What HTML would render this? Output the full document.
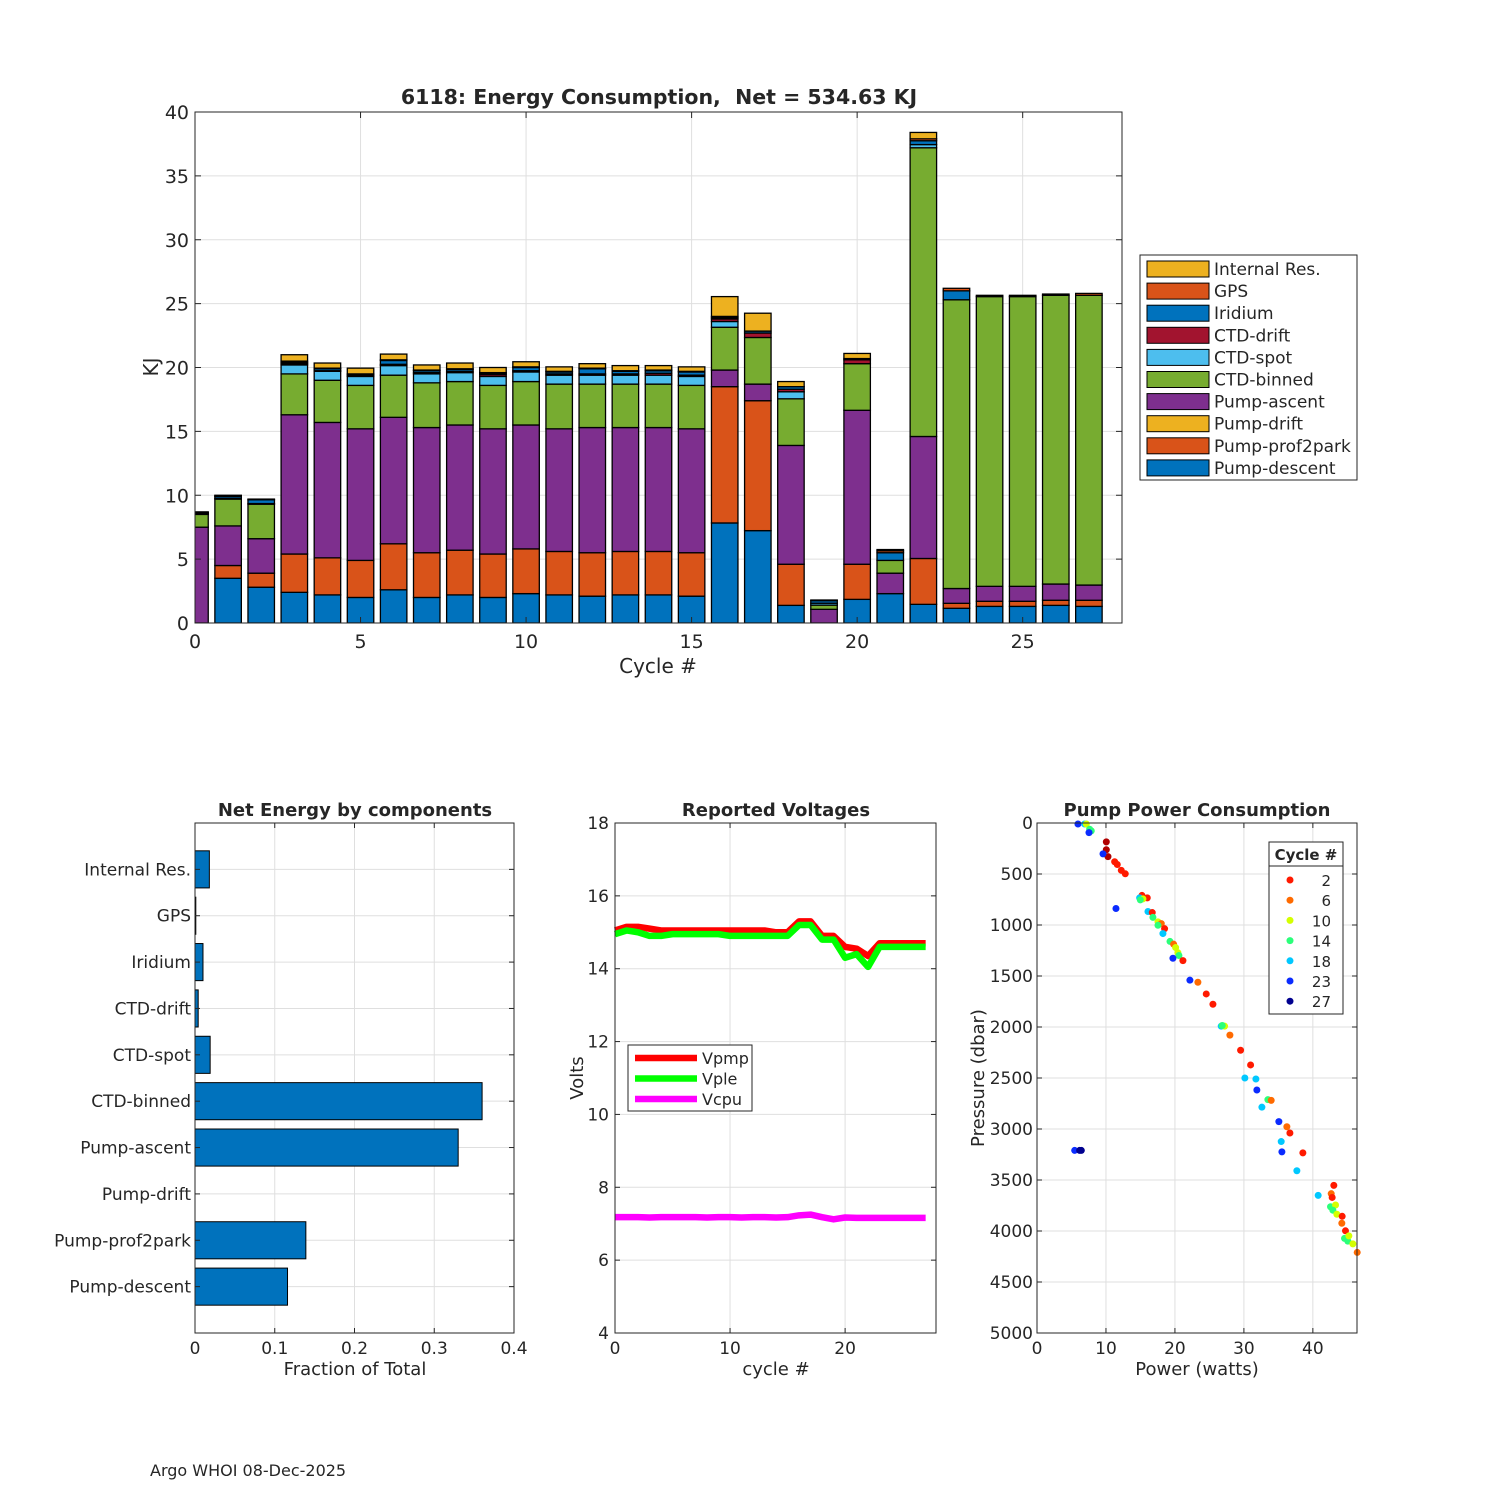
<!DOCTYPE html>
<html><head><meta charset="utf-8"><style>
body{margin:0;background:#fff;}
svg{display:block;font-family:"DejaVu Sans","Liberation Sans",sans-serif;}
</style></head><body>
<svg id="fig" width="1500" height="1500" viewBox="0 0 1500 1500">
<defs><clipPath id="topClip"><rect x="195" y="112" width="927" height="511"/></clipPath></defs>
</svg>
<script>
// ===== Top stacked bar chart data =====
const cycles=[0,1,2,3,4,5,6,7,8,9,10,11,12,13,14,15,16,17,18,19,20,21,22,23,24,25,26,27];
const compNames=["Pump-descent","Pump-prof2park","Pump-drift","Pump-ascent","CTD-binned","CTD-spot","CTD-drift","Iridium","GPS","Internal Res."];
const compColors=["#0072BD","#D95319","#EDB120","#7E2F8E","#77AC30","#4DBEEE","#A2142F","#0072BD","#D95319","#EDB120"];
const pumpDescent=[0,3.5,2.8,2.4,2.2,2.0,2.6,2.0,2.2,2.0,2.3,2.2,2.1,2.2,2.2,2.1,7.83,7.23,1.38,0,1.85,2.3,1.46,1.15,1.3,1.3,1.38,1.3];
const pumpProf2park=[0,1.0,1.1,3.0,2.9,2.9,3.6,3.5,3.5,3.4,3.5,3.4,3.4,3.4,3.4,3.4,10.67,10.17,3.22,0,2.75,0,3.59,0.39,0.4,0.4,0.4,0.48];
const pumpDrift=[0,0,0,0,0,0,0,0,0,0,0,0,0,0,0,0,0,0,0,0,0,0,0,0,0,0,0,0];
const pumpAscent=[7.5,3.1,2.7,10.9,10.6,10.3,9.9,9.8,9.8,9.8,9.7,9.6,9.8,9.7,9.7,9.7,1.3,1.3,9.3,1.07,12.05,1.6,9.55,1.16,1.17,1.17,1.27,1.19];
const ctdBinned=[1.0,2.1,2.7,3.2,3.3,3.4,3.3,3.5,3.4,3.4,3.4,3.5,3.4,3.4,3.4,3.4,3.35,3.65,3.65,0.33,3.65,1.0,22.6,22.6,22.68,22.68,22.6,22.68];
const ctdSpot=[0,0.05,0.05,0.7,0.7,0.7,0.75,0.7,0.7,0.7,0.75,0.7,0.7,0.7,0.7,0.7,0.45,0,0.55,0.15,0,0,0.25,0,0,0,0,0];
const ctdDrift=[0.05,0,0,0.1,0.05,0.05,0.1,0.1,0.1,0.15,0.1,0.1,0.1,0.1,0.15,0.1,0.2,0.35,0.2,0,0.3,0,0,0,0,0,0,0];
const iridium=[0.05,0.15,0.3,0.1,0.15,0.1,0.3,0.15,0.15,0.1,0.25,0.15,0.4,0.2,0.2,0.25,0.1,0.15,0.2,0.2,0,0.6,0.3,0.7,0,0,0,0];
const gps=[0.05,0.05,0.05,0.1,0.05,0.05,0.05,0.05,0.05,0.05,0.05,0.05,0.05,0.05,0.05,0.05,0.1,0,0,0,0.1,0.15,0.15,0.2,0.1,0.1,0.1,0.15];
const internalRes=[0.05,0.05,0,0.5,0.4,0.45,0.45,0.4,0.45,0.4,0.4,0.35,0.35,0.4,0.35,0.35,1.55,1.4,0.4,0.05,0.4,0.1,0.5,0,0,0,0,0];
const topYTicks=[0,5,10,15,20,25,30,35,40];
const topXTicks=[0,5,10,15,20,25];

// ===== Net energy by component =====
const compLabels=["Internal Res.","GPS","Iridium","CTD-drift","CTD-spot","CTD-binned","Pump-ascent","Pump-drift","Pump-prof2park","Pump-descent"];
const compFractions=[0.018,0.001,0.010,0.004,0.019,0.360,0.330,0,0.139,0.116];
const fracTicks=[0,0.1,0.2,0.3,0.4];

// ===== Voltages =====
const vCycles=[0,1,2,3,4,5,6,7,8,9,10,11,12,13,14,15,16,17,18,19,20,21,22,23,24,25,26,27];
const vPmp=[15.05,15.15,15.15,15.1,15.05,15.05,15.05,15.05,15.05,15.05,15.05,15.05,15.05,15.05,15.0,15.0,15.3,15.3,14.9,14.9,14.6,14.55,14.35,14.7,14.7,14.7,14.7,14.7];
const vPle=[14.95,15.05,15.0,14.9,14.9,14.95,14.95,14.95,14.95,14.95,14.9,14.9,14.9,14.9,14.9,14.9,15.2,15.2,14.8,14.8,14.3,14.4,14.05,14.6,14.6,14.6,14.6,14.6];
const vCpu=[7.18,7.18,7.18,7.17,7.18,7.18,7.18,7.18,7.17,7.18,7.18,7.17,7.18,7.18,7.17,7.18,7.23,7.25,7.18,7.12,7.17,7.16,7.16,7.16,7.16,7.16,7.16,7.16];
const voltYTicks=[4,6,8,10,12,14,16,18];
const voltXTicks=[0,10,20];

// ===== Pump power scatter =====
const pumpPower=[5.94,6.91,7.15,7.63,7.87,7.54,10.05,10.05,10.29,9.57,11.26,11.64,12.22,12.8,15.22,15.99,14.88,15.36,14.98,11.45,16.09,16.71,16.81,17.54,18.02,17.54,18.5,18.26,19.28,19.81,20.1,20.43,20.58,21.16,19.71,22.17,23.33,24.54,25.51,26.71,27.2,26.86,27.97,29.52,30.97,30.14,31.74,31.88,33.48,33.96,32.61,35.07,36.23,36.67,35.41,35.51,38.55,37.68,5.46,6.18,6.43,40.77,43.04,42.66,42.8,42.56,43.29,42.9,43.48,44.25,44.2,44.73,44.59,45.07,45.22,45.8,46.43];
const pumpPressure=[10,10,10,61,77,94,185,262,330,303,380,407,464,498,710,734,734,744,754,838,868,878,925,969,986,1003,1036,1084,1161,1188,1221,1272,1299,1349,1326,1541,1561,1676,1777,1992,1992,1985,2080,2228,2372,2500,2510,2618,2712,2719,2786,2928,2978,3039,3123,3224,3234,3409,3210,3210,3210,3651,3553,3634,3671,3762,3745,3796,3836,3856,3924,3998,4072,4099,4048,4126,4210];
const pumpCycle=[23,18,10,14,14,23,1,1,1,23,2,2,2,2,2,2,18,10,14,23,18,2,14,10,6,14,2,18,14,6,10,10,14,2,23,23,6,2,2,18,10,14,6,2,2,18,18,23,14,6,18,23,6,2,18,23,2,18,23,27,27,18,2,6,2,14,10,14,10,2,6,2,14,14,10,10,6];
const legendCycles=[2,6,10,14,18,23,27];
const legendCycleColors=["#ff1a00","#ff6a00","#d4ff00","#2bff7a","#00c8ff","#0a2bff","#00008f"];
const pressTicks=[0,500,1000,1500,2000,2500,3000,3500,4000,4500,5000];
const powerTicks=[0,10,20,30,40];

const NS="http://www.w3.org/2000/svg";
const fig=document.getElementById('fig');
function mk(tag,attrs,parent){const e=document.createElementNS(NS,tag);for(const k in attrs)e.setAttribute(k,attrs[k]);(parent||fig).appendChild(e);return e;}
function txt(s,x,y,size,anchor,parent,weight){const t=mk('text',{x:x,y:y,'font-size':size,'text-anchor':anchor||'middle',fill:'#262626','font-weight':weight||'normal'},parent);t.textContent=s;return t;}
function cycleColor(c){const i=legendCycles.indexOf(c);return i>=0?legendCycleColors[i]:'#b00000';}

// ---------- TOP ----------
const T={l:195,r:1122,t:112,b:623,x0:0,x1:28,y0:0,y1:40};
const tx=v=>T.l+(v-T.x0)/(T.x1-T.x0)*(T.r-T.l);
const ty=v=>T.b-(v-T.y0)/(T.y1-T.y0)*(T.b-T.t);
const gTop=mk('g',{});


topYTicks.forEach(v=>{const l=mk('line',{x1:T.l,x2:T.r,y1:ty(v),y2:ty(v),stroke:'#dfdfdf','stroke-width':1},gTop);});
topXTicks.forEach(v=>{const l=mk('line',{x1:tx(v),x2:tx(v),y1:T.t,y2:T.b,stroke:'#dfdfdf','stroke-width':1},gTop);});
const series=[pumpDescent,pumpProf2park,pumpDrift,pumpAscent,ctdBinned,ctdSpot,ctdDrift,iridium,gps,internalRes];
const bw=0.8;
const barsG=mk('g',{'clip-path':'url(#topClip)'},gTop);


cycles.forEach((c,i)=>{let base=0;series.forEach((s,k)=>{const v=s[i];if(v<=0)return;const r=mk('rect',{x:tx(c-bw/2),y:ty(base+v),width:tx(c+bw/2)-tx(c-bw/2),height:ty(base)-ty(base+v),fill:compColors[k],stroke:'#000','stroke-width':1.3},barsG);


base+=v;});});
mk('rect',{x:T.l,y:T.t,width:T.r-T.l,height:T.b-T.t,fill:'none',stroke:'#262626','stroke-width':1},gTop);
topYTicks.forEach(v=>{mk('line',{x1:T.l,x2:T.l+6,y1:ty(v),y2:ty(v),stroke:'#262626'},gTop);mk('line',{x1:T.r,x2:T.r-6,y1:ty(v),y2:ty(v),stroke:'#262626'},gTop);const t=txt(String(v),T.l-6,ty(v)+7,19,'end',gTop);});
topXTicks.forEach(v=>{mk('line',{x1:tx(v),x2:tx(v),y1:T.b,y2:T.b-6,stroke:'#262626'},gTop);mk('line',{x1:tx(v),x2:tx(v),y1:T.t,y2:T.t+6,stroke:'#262626'},gTop);const t=txt(String(v),tx(v),T.b+25,19,'middle',gTop);});
let tt=txt('6118: Energy Consumption,\u00a0 Net = 534.63 KJ',659,104,20.5,'middle',gTop,'bold');
tt=txt('Cycle #',658,673,20,'middle',gTop);
tt=mk('text',{x:0,y:0,'font-size':20,'text-anchor':'middle',fill:'#262626',transform:'translate(158,367) rotate(-90)'},gTop);tt.textContent='KJ';
// legend
const lg=mk('g',{},gTop);
mk('rect',{x:1140,y:255,width:217,height:225,fill:'#fff',stroke:'#262626','stroke-width':1},lg);
for(let k=9;k>=0;k--){const row=9-k;const y=261+row*22.1;const e=mk('g',{},lg);
mk('rect',{x:1147,y:y,width:62,height:16,fill:compColors[k],stroke:'#000','stroke-width':1},e);txt(compNames[k],1214,y+14,17,'start',e);}

// ---------- BOTTOM LEFT ----------
const B={l:195,r:514,t:823,b:1333};
const bx=v=>B.l+v/0.4*(B.r-B.l);
const by=i=>B.t+(i+1)/11*(B.b-B.t);
const gB=mk('g',{});
fracTicks.forEach(v=>mk('line',{x1:bx(v),x2:bx(v),y1:B.t,y2:B.b,stroke:'#dfdfdf'},gB));
compLabels.forEach((s,i)=>mk('line',{x1:B.l,x2:B.r,y1:by(i),y2:by(i),stroke:'#dfdfdf'},gB));
compLabels.forEach((s,i)=>{const h=0.8/11*(B.b-B.t);const r=mk('rect',{x:bx(0),y:by(i)-h/2,width:bx(compFractions[i])-bx(0),height:h,fill:'#0072BD',stroke:'#000','stroke-width':1},gB);


const t=txt(s,B.l-4,by(i)+6,17,'end',gB);
mk('line',{x1:B.l,x2:B.l+5,y1:by(i),y2:by(i),stroke:'#262626'},gB);mk('line',{x1:B.r,x2:B.r-5,y1:by(i),y2:by(i),stroke:'#262626'},gB);});
mk('rect',{x:B.l,y:B.t,width:B.r-B.l,height:B.b-B.t,fill:'none',stroke:'#262626'},gB);
fracTicks.forEach(v=>{mk('line',{x1:bx(v),x2:bx(v),y1:B.b,y2:B.b-5,stroke:'#262626'},gB);mk('line',{x1:bx(v),x2:bx(v),y1:B.t,y2:B.t+5,stroke:'#262626'},gB);const t=txt(String(v),bx(v),B.b+21,17,'middle',gB);});
tt=txt('Net Energy by components',355,816,18,'middle',gB,'bold');
tt=txt('Fraction of Total',355,1375,18,'middle',gB);

// ---------- BOTTOM MIDDLE ----------
const V={l:615,r:936,t:823,b:1333,x1:27.9,y0:4,y1:18};
const vx=v=>V.l+v/V.x1*(V.r-V.l);
const vy=v=>V.b-(v-V.y0)/(V.y1-V.y0)*(V.b-V.t);
const gV=mk('g',{});
voltYTicks.forEach(v=>mk('line',{x1:V.l,x2:V.r,y1:vy(v),y2:vy(v),stroke:'#dfdfdf'},gV));
voltXTicks.forEach(v=>mk('line',{x1:vx(v),x2:vx(v),y1:V.t,y2:V.b,stroke:'#dfdfdf'},gV));
[[vPmp,'#ff0000','vpmp-line'],[vPle,'#00ff00','vple-line'],[vCpu,'#ff00ff','vcpu-line']].forEach(([arr,col,nm])=>{const p=mk('polyline',{points:vCycles.map((c,i)=>vx(c)+','+vy(arr[i])).join(' '),fill:'none',stroke:col,'stroke-width':6.5,'stroke-linejoin':'round'},gV);

});
mk('rect',{x:V.l,y:V.t,width:V.r-V.l,height:V.b-V.t,fill:'none',stroke:'#262626'},gV);
voltYTicks.forEach(v=>{mk('line',{x1:V.l,x2:V.l+5,y1:vy(v),y2:vy(v),stroke:'#262626'},gV);mk('line',{x1:V.r,x2:V.r-5,y1:vy(v),y2:vy(v),stroke:'#262626'},gV);const t=txt(String(v),V.l-6,vy(v)+6,17,'end',gV);});
voltXTicks.forEach(v=>{mk('line',{x1:vx(v),x2:vx(v),y1:V.b,y2:V.b-5,stroke:'#262626'},gV);mk('line',{x1:vx(v),x2:vx(v),y1:V.t,y2:V.t+5,stroke:'#262626'},gV);const t=txt(String(v),vx(v),V.b+21,17,'middle',gV);});
tt=txt('Reported Voltages',776,816,18,'middle',gV,'bold');
tt=txt('cycle #',776,1375,18,'middle',gV);
tt=mk('text',{x:0,y:0,'font-size':18,'text-anchor':'middle',fill:'#262626',transform:'translate(583,1078) rotate(-90)'},gV);tt.textContent='Volts';
const vl=mk('g',{},gV);
mk('rect',{x:628,y:1045,width:124,height:66,fill:'#fff',stroke:'#262626'},vl);
[['Vpmp','#ff0000'],['Vple','#00ff00'],['Vcpu','#ff00ff']].forEach(([n,c],i)=>{const y=1058+i*20.5;const e=mk('g',{},vl);mk('line',{x1:635,x2:697,y1:y,y2:y,stroke:c,'stroke-width':6.5},e);txt(n,702,y+6,16,'start',e);});

// ---------- BOTTOM RIGHT ----------
const P={l:1037,r:1357,t:823,b:1333,x1:46.4,y1:5000};
const px=v=>P.l+v/P.x1*(P.r-P.l);
const py=v=>P.t+v/P.y1*(P.b-P.t);
const gP=mk('g',{});
pressTicks.forEach(v=>mk('line',{x1:P.l,x2:P.r,y1:py(v),y2:py(v),stroke:'#dfdfdf'},gP));
powerTicks.forEach(v=>mk('line',{x1:px(v),x2:px(v),y1:P.t,y2:P.b,stroke:'#dfdfdf'},gP));
pumpPower.forEach((w,i)=>{const c=mk('circle',{cx:px(w),cy:py(pumpPressure[i]),r:3.5,fill:cycleColor(pumpCycle[i])},gP);

});
mk('rect',{x:P.l,y:P.t,width:P.r-P.l,height:P.b-P.t,fill:'none',stroke:'#262626'},gP);
pressTicks.forEach(v=>{mk('line',{x1:P.l,x2:P.l+5,y1:py(v),y2:py(v),stroke:'#262626'},gP);mk('line',{x1:P.r,x2:P.r-5,y1:py(v),y2:py(v),stroke:'#262626'},gP);const t=txt(String(v),P.l-4,py(v)+6,17,'end',gP);});
powerTicks.forEach(v=>{mk('line',{x1:px(v),x2:px(v),y1:P.b,y2:P.b-5,stroke:'#262626'},gP);mk('line',{x1:px(v),x2:px(v),y1:P.t,y2:P.t+5,stroke:'#262626'},gP);const t=txt(String(v),px(v),P.b+21,17,'middle',gP);});
tt=txt('Pump Power Consumption',1197,816,18,'middle',gP,'bold');
tt=txt('Power (watts)',1197,1375,18,'middle',gP);
tt=mk('text',{x:0,y:0,'font-size':18,'text-anchor':'middle',fill:'#262626',transform:'translate(984,1078) rotate(-90)'},gP);tt.textContent='Pressure (dbar)';
const pl=mk('g',{},gP);
mk('rect',{x:1269,y:842,width:74,height:172,fill:'#fff',stroke:'#262626'},pl);
mk('line',{x1:1269,x2:1343,y1:866,y2:866,stroke:'#262626'},pl);
txt('Cycle #',1306,860,15,'middle',pl,'bold');
legendCycles.forEach((c,i)=>{const y=880+i*20.2;const e=mk('g',{},pl);mk('circle',{cx:1290,cy:y,r:3.5,fill:legendCycleColors[i]},e);txt(String(c),1331,y+6,15,'end',e);});

tt=txt('Argo WHOI 08-Dec-2025',150,1476,16,'start');
</script>
</body></html>
